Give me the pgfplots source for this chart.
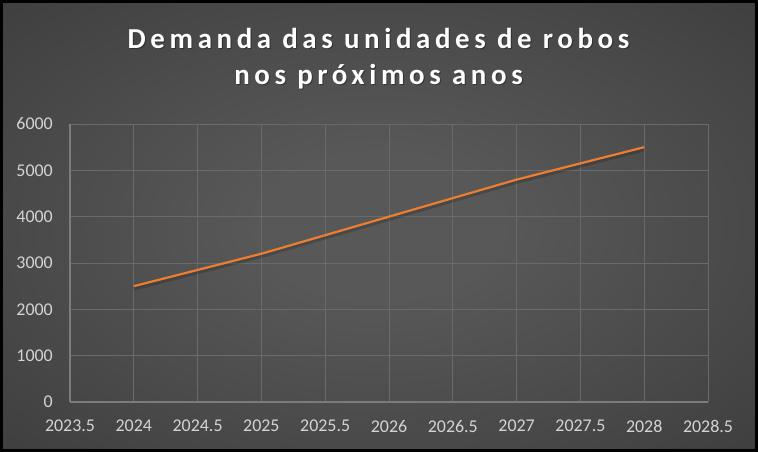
\documentclass[border=0pt]{standalone}
\usepackage{pgfplots}
\pgfplotsset{compat=1.18}
\usepackage{fontspec}
\setmainfont{Carlito}
\newfontfamily\titlefont[LetterSpace=16]{Carlito}
\definecolor{bgin}{HTML}{585858}
\definecolor{bgout}{HTML}{1E1E1E}
\definecolor{gridc}{HTML}{6A6A6A}
\definecolor{axisc}{HTML}{7C7C7C}
\definecolor{tickc}{HTML}{D4D4D4}
\definecolor{lineo}{HTML}{ED7D31}
\pgfdeclareradialshading{bgshade}{\pgfpoint{0bp}{0bp}}{color(0bp)=(bgin); color(8bp)=(bgin); color(71bp)=(bgout)}
\begin{document}
\begin{tikzpicture}
\shade[shading=bgshade] (0,0) rectangle (758bp,452bp);
\draw[black, line width=3bp] (1.5bp,1.5bp) rectangle (756.5bp,450.5bp);
\begin{axis}[
  at={(70bp,50bp)}, anchor=south west,
  scale only axis, width=638bp, height=278bp,
  xmin=2023.5, xmax=2028.5, ymin=0, ymax=6000,
  xtick={2023.5,2024,2024.5,2025,2025.5,2026,2026.5,2027,2027.5,2028,2028.5},
  xticklabels={2023.5,2024,2024.5,2025,2025.5,2026,2026.5,2027,2027.5,2028,2028.5},
  ytick={0,1000,2000,3000,4000,5000,6000},
  yticklabels={0,1000,2000,3000,4000,5000,6000},
  grid=major,
  grid style={draw=gridc, line width=0.9bp},
  major tick length=0pt,
  axis lines*=left,
  axis line style={draw=axisc, line width=1.2bp, -},
  tick label style={font=\fontsize{18}{20}\selectfont, text=tickc, inner sep=0pt},
  xticklabel style={anchor=north, yshift=-18bp},
  yticklabel style={anchor=east, xshift=-17bp},
  clip=false,
]
\addplot[black, opacity=0.18, line width=3.5bp, yshift=-2.5bp, no marks] coordinates {
  (2024,2500) (2025,3200) (2026,4000) (2027,4800) (2028,5500)};
\addplot[lineo, line width=2.2bp, no marks] coordinates {
  (2024,2500) (2025,3200) (2026,4000) (2027,4800) (2028,5500)};
\end{axis}
\begin{scope}[font=\titlefont\bfseries\fontsize{29}{32}\selectfont]
\node[anchor=base, text=black, opacity=0.35] at (379.5bp,402bp) {Demanda das unidades de robos};
\node[anchor=base, text=black, opacity=0.35] at (379.5bp,366bp) {nos próximos anos};
\node[anchor=base, text=white] at (378.5bp,403.5bp) {Demanda das unidades de robos};
\node[anchor=base, text=white] at (378.5bp,367.5bp) {nos próximos anos};
\end{scope}
\end{tikzpicture}
\end{document}
